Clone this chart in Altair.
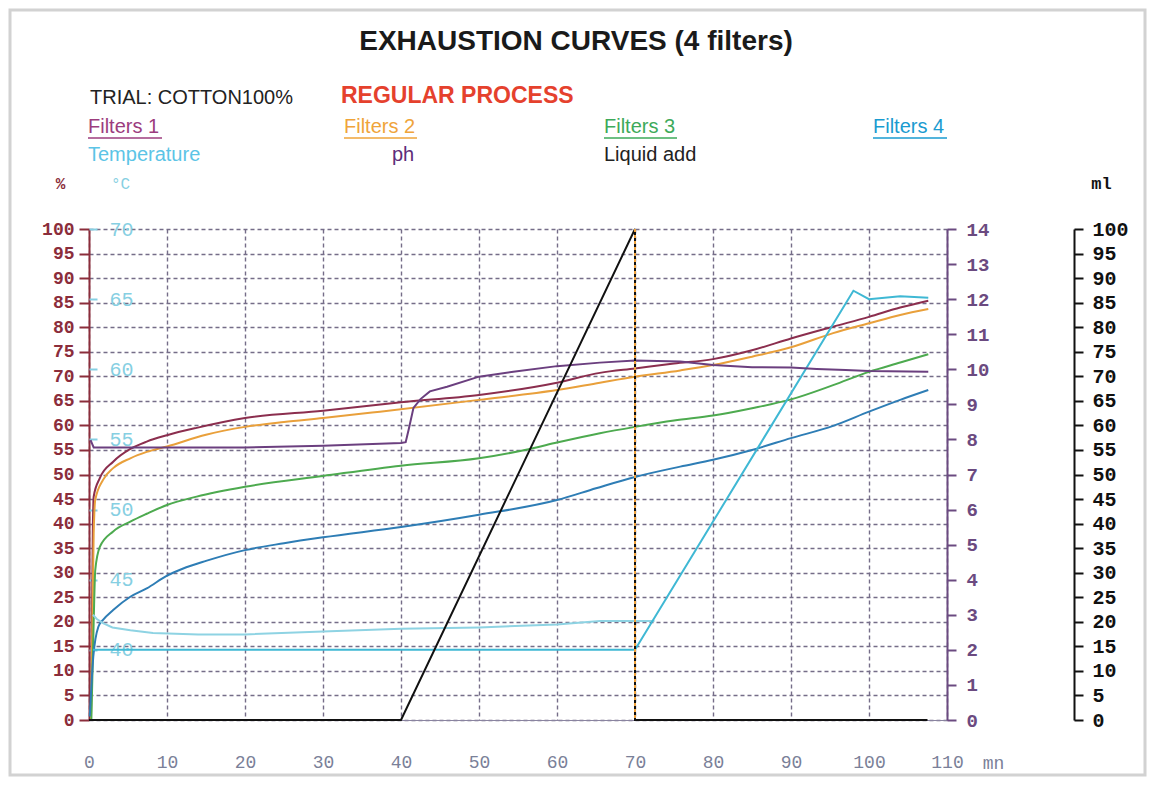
import altair as alt
import pandas as pd

# ---------------- data ----------------
f1_t = [0.25, 0.5, 0.6, 1.4, 3.1, 5.3, 7.4, 10, 13.8, 20, 30, 40, 50, 60, 65.5, 70, 75, 80, 85, 90, 95.4, 100, 104, 107.6]
f1_v = [0, 40, 45.5, 49.3, 52.6, 55.2, 56.7, 58, 59.5, 61.5, 63, 64.7, 66.2, 68.7, 70.7, 71.6, 72.6, 73.5, 75.3, 77.7, 80.1, 82.1, 84, 85.4]

f2_t = [0.25, 0.6, 0.8, 1.8, 3.1, 5.3, 7.4, 10, 15, 20, 25, 30, 37.3, 50, 60, 65.5, 70, 75.8, 80, 85, 90, 95.4, 100, 104, 107.6]
f2_v = [0, 38, 44.8, 48.9, 51.3, 53.3, 54.6, 55.7, 58.1, 59.7, 60.7, 61.5, 62.8, 65.2, 67.2, 68.7, 69.9, 71.2, 72.3, 74, 75.9, 78.8, 80.8, 82.5, 83.7]

f3_t = [0.3, 0.6, 0.8, 1.4, 3.1, 5.3, 7.4, 10, 13.8, 20, 30, 40, 50, 56.5, 60, 65.5, 70, 75, 80, 85, 90, 95.4, 100, 104, 107.6]
f3_v = [0, 20, 30.5, 35.3, 38.4, 40.4, 42.0, 43.8, 45.5, 47.5, 49.7, 51.8, 53.3, 55.2, 56.5, 58.4, 59.7, 61, 62, 63.5, 65.3, 68.2, 70.9, 72.8, 74.5]

f4_t = [0.1, 0.55, 1.2, 1.8, 3.1, 5.3, 7.4, 10, 12, 15, 20, 25, 30, 40, 50, 60, 65, 70, 75.8, 80, 85, 90, 95.4, 100, 104, 107.6]
f4_v = [0.7, 12.9, 19, 20.4, 22.4, 25.1, 26.8, 29.4, 30.8, 32.4, 34.6, 36.0, 37.2, 39.3, 41.8, 44.8, 47.2, 49.5, 51.6, 53, 55, 57.4, 59.9, 62.8, 65.2, 67.2]

temp_t = [0.5, 70, 98, 100, 104, 107.6]
temp_c = [40, 40, 65.6, 65.0, 65.2, 65.1]

temp2_t = [0.5, 1, 1.8, 3, 5.3, 8.2, 14, 20, 30, 40, 50, 60, 65.5, 72.5]
temp2_c = [42.5, 42.2, 41.9, 41.6, 41.4, 41.2, 41.1, 41.1, 41.3, 41.5, 41.6, 41.8, 42.05, 42.05]

ph_t = [0.2, 0.6, 20, 30, 40, 40.6, 41.0, 41.6, 42.5, 43.7, 45.9, 50, 54.4, 60, 65.5, 70, 75.8, 80, 85, 90, 93.3, 97, 100, 107.6]
ph_v = [7.98, 7.77, 7.77, 7.82, 7.9, 7.92, 8.3, 8.9, 9.15, 9.37, 9.5, 9.79, 9.93, 10.09, 10.19, 10.25, 10.22, 10.12, 10.06, 10.05, 10.01, 9.98, 9.95, 9.93]

liquid_t = [0, 40, 70, 70, 107.5]
liquid_ml = [0, 0, 100, 0, 0]

x_ticks = list(range(0, 111, 10))
pct_ticks = list(range(0, 101, 5))
temp_ticks = [40, 45, 50, 55, 60, 65, 70]
ph_ticks = list(range(0, 15))
ml_ticks = list(range(0, 101, 5))

series_names = ["Filters 1", "Filters 2", "Filters 3", "Filters 4",
                "Temperature", "Temperature 2", "ph", "Liquid add", "Liquid drop"]
series_colors = ["#8B2E4E", "#E9A03B", "#4DAA4F", "#2E7DB5",
                 "#3FB8D4", "#8ED3E3", "#6B3F7F", "#111111", "#F0A23C"]

# ---------------- styling ----------------
W, H = 858, 491
MONO = "Liberation Mono"
SANS = "Liberation Sans"
RED = "#8B2D3B"
PURPLE = "#6B4A80"
TEMP_LBL = "#86CFE2"
GRID = "#756D88"
XLBL = "#7A8098"


def sdf(name, t, v):
    return pd.DataFrame({"t": t, "v": v, "series": name, "order": list(range(len(t)))})


color_enc = alt.Color("series:N", scale=alt.Scale(domain=series_names, range=series_colors), legend=None)

x_main = alt.X(
    "t:Q",
    scale=alt.Scale(domain=[0, 110], nice=False, zero=False),
    axis=alt.Axis(values=x_ticks, grid=True, gridDash=[4, 3], gridColor=GRID, gridWidth=1.4,
                  ticks=False, tickSize=0, domain=True, domainColor="#8a84a0", domainWidth=1,
                  labelFont=MONO, labelFontSize=18, labelColor=XLBL, labelPadding=33,
                  labelFlush=False, labelOverlap=False,
                  title="mn", titleFont=MONO, titleFontSize=18, titleColor=XLBL,
                  titleFontWeight="normal", titleX=904, titleY=43, titleAlign="center",
                  titleBaseline="middle", titleAngle=0),
)

pct_df = pd.concat([sdf("Filters 1", f1_t, f1_v), sdf("Filters 2", f2_t, f2_v),
                    sdf("Filters 3", f3_t, f3_v), sdf("Filters 4", f4_t, f4_v)])

main = alt.Chart(pct_df).mark_line(strokeWidth=2, interpolate="monotone").encode(
    x=x_main,
    y=alt.Y("v:Q", scale=alt.Scale(domain=[0, 100], nice=False, zero=False),
            axis=alt.Axis(orient="left", values=pct_ticks, grid=True, gridDash=[4, 3],
                          gridColor=GRID, gridWidth=1.4, domainColor=RED, domainWidth=2,
                          tickColor=RED, tickWidth=2, tickSize=10, labelColor=RED,
                          labelFont=MONO, labelFontSize=18, labelFontWeight="bold",
                          labelPadding=5, labelOverlap=False,
                          title="%", titleAngle=0, titleX=-29, titleY=-46, titleColor=RED,
                          titleFont=MONO, titleFontSize=16, titleFontWeight="bold",
                          titleAlign="center", titleBaseline="middle")),
    color=color_enc, order="order:Q",
)

temp_df = pd.concat([sdf("Temperature 2", temp2_t, temp2_c), sdf("Temperature", temp_t, temp_c)])
temp = alt.Chart(temp_df).mark_line(strokeWidth=2).encode(
    x=x_main,
    y=alt.Y("v:Q", scale=alt.Scale(domain=[35, 70], nice=False, zero=False),
            axis=alt.Axis(orient="right", offset=-W, values=temp_ticks, grid=False, domain=False,
                          tickColor=TEMP_LBL, tickSize=8, tickWidth=2, labelColor=TEMP_LBL,
                          labelFont=MONO, labelFontSize=20, labelPadding=12, labelOverlap=False,
                          title="°C", titleAngle=0, titleX=31, titleY=-46, titleColor=TEMP_LBL,
                          titleFont=MONO, titleFontSize=16, titleFontWeight="normal",
                          titleAlign="center", titleBaseline="middle")),
    color=color_enc, order="order:Q",
)

ph = alt.Chart(sdf("ph", ph_t, ph_v)).mark_line(strokeWidth=2).encode(
    x=x_main,
    y=alt.Y("v:Q", scale=alt.Scale(domain=[0, 14], nice=False, zero=False),
            axis=alt.Axis(orient="right", offset=0, values=ph_ticks, grid=False,
                          domainColor=PURPLE, domainWidth=2, tickColor=PURPLE, tickWidth=2,
                          tickSize=9, labelColor=PURPLE, labelFont=MONO, labelFontSize=19,
                          labelFontWeight="bold", labelPadding=10, labelOverlap=False, title=None)),
    color=color_enc, order="order:Q",
)

liq = alt.Chart(sdf("Liquid add", liquid_t, liquid_ml)).mark_line(strokeWidth=2).encode(
    x=x_main,
    y=alt.Y("v:Q", scale=alt.Scale(domain=[0, 100], nice=False, zero=False),
            axis=alt.Axis(orient="right", offset=127, values=ml_ticks, grid=False,
                          domainColor="#111111", domainWidth=2, tickColor="#111111", tickWidth=2,
                          tickSize=9, labelColor="#111111", labelFont=MONO, labelFontSize=20,
                          labelFontWeight="bold", labelPadding=9, labelOverlap=False,
                          title="ml", titleAngle=0, titleX=27, titleY=-46, titleColor="#111111",
                          titleFont=MONO, titleFontSize=17, titleFontWeight="bold",
                          titleAlign="center", titleBaseline="middle")),
    color=color_enc, order="order:Q",
)

drop = alt.Chart(sdf("Liquid drop", liquid_t[2:4], liquid_ml[2:4])).mark_line(
    strokeWidth=2, strokeDash=[3, 3]).encode(
    x=x_main,
    y=alt.Y("v:Q", scale=alt.Scale(domain=[0, 100], nice=False, zero=False), axis=None),
    color=color_enc, order="order:Q",
)

one = pd.DataFrame({"k": [0]})


def txt(s, x, y, color, size, weight="normal", font=SANS, align="left"):
    return alt.Chart(one).mark_text(text=s, align=align, baseline="middle", font=font,
                                    fontSize=size, fontWeight=weight, color=color).encode(
        x=alt.value(x), y=alt.value(y))


def uline(x1, x2, y, color):
    return alt.Chart(one).mark_rule(color=color, strokeWidth=1.5).encode(
        x=alt.value(x1), x2=alt.value(x2), y=alt.value(y))


border = alt.Chart(one).mark_rect(fill=None, stroke="#d2d2d2", strokeWidth=3).encode(
    x=alt.value(-79), x2=alt.value(1056), y=alt.value(-219), y2=alt.value(546))

decor = [
    border,
    txt("EXHAUSTION CURVES (4 filters)", 487, -187, "#1a1a1a", 28, "bold", align="center"),
    txt("TRIAL: COTTON100%", 1, -131, "#222222", 20),
    txt("REGULAR PROCESS", 252, -133, "#E5412D", 23, "bold"),
    txt("Filters 1", -1, -102, "#9C3C7E", 20), uline(-1, 73, -91, "#9C3C7E"),
    txt("Filters 2", 255, -102, "#EFA43A", 20), uline(255, 328, -91, "#EFA43A"),
    txt("Filters 3", 515, -102, "#3DAA5A", 20), uline(515, 588, -91, "#3DAA5A"),
    txt("Filters 4", 784, -102, "#1A9BD0", 20), uline(784, 858, -91, "#1A9BD0"),
    txt("Temperature", -1, -74, "#5CC4E6", 20),
    txt("ph", 303, -74, "#5E2D79", 20),
    txt("Liquid add", 515, -74, "#222222", 20),
]

chart = alt.layer(main, temp, ph, liq, drop, *decor).resolve_scale(y="independent").properties(
    width=W, height=H,
    padding={"left": 81, "top": 221, "right": 200, "bottom": 57},
    autosize=alt.AutoSizeParams(type="none"),
).configure_view(strokeWidth=0)

chart.save("out.html", embed_options={"renderer": "svg", "actions": False})
